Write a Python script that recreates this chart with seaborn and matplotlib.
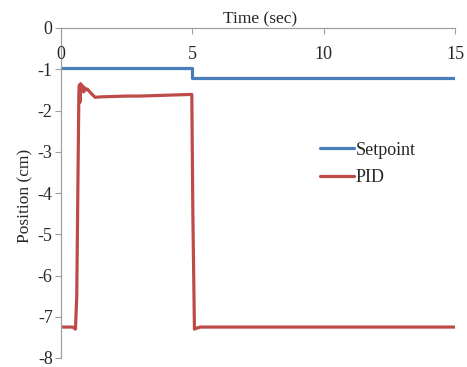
import matplotlib
matplotlib.use("Agg")
import matplotlib.pyplot as plt
import seaborn as sns
import pandas as pd

# Data
sp_time = [0, 5, 5, 15]
sp_pos = [-0.96, -0.96, -1.22, -1.22]

pid_time = [0, 0.45, 0.55, 0.6, 0.64, 0.68, 0.7, 0.72, 0.75, 0.78, 0.82, 0.86, 0.9, 0.95,
            1.0, 1.1, 1.2, 1.3, 1.5, 2.0, 2.5, 3.0, 3.5, 4.0, 4.5, 4.98, 5.02, 5.08, 5.15,
            5.3, 8.0, 15]
pid_pos = [-7.25, -7.25, -7.3, -6.5, -4.0, -1.6, -1.38, -1.8, -1.35, -1.5, -1.4, -1.55, -1.45,
           -1.5, -1.48, -1.55, -1.62, -1.68, -1.67, -1.66, -1.65, -1.65, -1.64, -1.63, -1.62,
           -1.61, -4.5, -7.3, -7.28, -7.25, -7.25, -7.25]

xticks = [0, 5, 10, 15]
yticks = [0, -1, -2, -3, -4, -5, -6, -7, -8]

sns.set_style("white")
plt.rcParams['font.family'] = ['Liberation Serif', 'DejaVu Serif']

df_sp = pd.DataFrame({"Time": sp_time, "Position": sp_pos})
df_pid = pd.DataFrame({"Time": pid_time, "Position": pid_pos})

fig = plt.figure(figsize=(4.67, 3.67), dpi=100)
ax = fig.add_axes([61/467, 1 - 358/367, (455 - 61)/467, (358 - 28)/367])

sns.lineplot(data=df_sp, x="Time", y="Position", ax=ax, color="#4a7ebb", lw=2.3,
             label="Setpoint", sort=False, estimator=None)
sns.lineplot(data=df_pid, x="Time", y="Position", ax=ax, color="#be4b48", lw=2.3,
             label="PID", sort=False, estimator=None)

ax.set_xlim(0, 15)
ax.set_ylim(-8, 0)
ax.set_xticks(xticks)
ax.set_yticks(yticks)
ax.set_yticklabels([str(v) for v in yticks], fontsize=13)
ax.set_xticklabels([str(v) for v in xticks], fontsize=13)

ax.xaxis.set_label_position("top")
ax.xaxis.tick_top()
ax.set_xlabel("Time (sec)", fontsize=12.5)
ax.xaxis.set_label_coords(0.505, 1.015)
ax.set_ylabel("Position (cm)", fontsize=12.5)
ax.yaxis.set_label_coords(-0.07, 0.49)

for s in ["right", "bottom"]:
    ax.spines[s].set_visible(False)
for s in ["left", "top"]:
    ax.spines[s].set_color("#a0a0a0")
    ax.spines[s].set_linewidth(0.9)

ax.tick_params(axis="x", which="both", direction="in", length=4, color="#a0a0a0",
               top=True, bottom=False, labeltop=False, labelbottom=False)
ax.tick_params(axis="y", direction="out", length=4, color="#a0a0a0", left=True, pad=2)

# x tick labels drawn below the top spine (inside), like the reference
for v in xticks:
    ax.annotate(str(v), xy=(v, 0), xycoords="data", xytext=(0, -19),
                textcoords="offset points", ha="center", va="center", fontsize=13)

leg = ax.legend(loc="upper left", bbox_to_anchor=(0.615, 0.705), frameon=False,
                fontsize=13, handlelength=1.9, handletextpad=0.1, labelspacing=0.6)

fig.savefig("out.png", dpi=100)
